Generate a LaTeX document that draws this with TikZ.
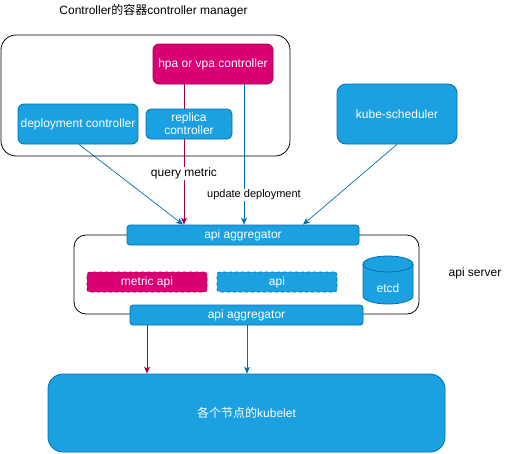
\documentclass[tikz,border=0pt]{standalone}
\usepackage{fontspec}
\setmainfont{Liberation Sans}
\newfontfamily\cjk{Noto Sans CJK SC}
\usetikzlibrary{arrows.meta,backgrounds,calc}
\definecolor{blueF}{HTML}{1BA1E2}
\definecolor{blueD}{HTML}{006EAF}
\definecolor{magF}{HTML}{D80073}
\definecolor{magD}{HTML}{A50040}
\begin{document}
\begin{tikzpicture}[x=1pt,y=-1pt,
  txt/.style={font=\fontsize{12}{14}\selectfont},
  bluebox/.style={draw=blueD, fill=blueF, text=white, line width=0.8pt, txt, inner sep=0pt, align=center},
  magbox/.style={draw=magD, fill=magF, text=white, line width=0.8pt, txt, inner sep=0pt, align=center},
  frame/.style={draw=black, line width=0.8pt, inner sep=0pt},
  bluearrow/.style={draw=blueD, line width=0.7pt, -{Stealth[length=7pt,width=6pt,inset=2pt]}},
  magarrow/.style={draw=magD, line width=0.7pt, -{Stealth[length=7pt,width=6pt,inset=2pt]}},
  edgelabel/.style={fill=white, inner sep=1pt, text=black}
]
\useasboundingbox (0,0) rectangle (505,453);

% title
\node[txt] (title) at (153.5,11) {Controller{\cjk 的容器}controller manager};

% controller manager frame
\node[frame, rounded corners=15pt, minimum width=289pt, minimum height=121pt] (cm) at (145.5,95.5) {};
\node[magbox, rounded corners=6pt, minimum width=120pt, minimum height=40pt] (hpa) at (213,64) {hpa or vpa controller};
\node[bluebox, rounded corners=6pt, minimum width=120pt, minimum height=40pt] (dep) at (78,124) {deployment controller};
\node[bluebox, rounded corners=5pt, minimum width=86pt, minimum height=30pt, font=\fontsize{12}{13}\selectfont] (rep) at (189,124) {replica\\controller};

% scheduler
\node[bluebox, rounded corners=9pt, minimum width=120pt, minimum height=60pt] (sched) at (397,114) {kube-scheduler};

% api server
\node[frame, rounded corners=12pt, minimum width=345pt, minimum height=79pt] (apisrv) at (246.5,274.5) {};
\node[bluebox, rounded corners=3pt, minimum width=232pt, minimum height=20pt] (agg1) at (243,235) {api aggregator};
\node[magbox, dashed, rounded corners=3pt, minimum width=120pt, minimum height=20pt] (metric) at (147,282) {metric api};
\node[bluebox, dashed, rounded corners=3pt, minimum width=120pt, minimum height=20pt] (api) at (277,282) {api};
\node[bluebox, rounded corners=3pt, minimum width=233pt, minimum height=20pt] (agg2) at (246.5,315) {api aggregator};
\node[txt] (srvlabel) at (475,273) {api server};

% etcd cylinder
\fill[blueF] (363,264) -- (363,296) arc (180:360:25pt and 8pt) -- (413,264) arc (0:180:25pt and 8pt) -- cycle;
\draw[blueD, line width=0.8pt] (363,264) -- (363,296) arc (180:360:25pt and 8pt) -- (413,264) arc (0:180:25pt and 8pt) -- cycle;
\draw[blueD, line width=0.8pt] (363,264) arc (180:360:25pt and 8pt);
\node[txt, text=white] (etcd) at (388,288) {etcd};

% kubelet
\node[bluebox, rounded corners=15pt, minimum width=397pt, minimum height=78pt] (kubelet) at (246.5,413) {{\cjk 各个节点的}kubelet};

% connectors
\begin{pgfonlayer}{background}
\draw[bluearrow] ([xshift=1pt]dep.south) -- ([xshift=-60pt]agg1.north);
\draw[magarrow] ([xshift=-29pt]hpa.south) -- ([xshift=-29pt]hpa.south |- agg1.north)
  node[edgelabel, txt, pos=0.638] (qm) {query metric};
\draw[bluearrow] ([xshift=31pt]hpa.south) -- ([xshift=31pt]hpa.south |- agg1.north)
  node[edgelabel, font=\fontsize{11}{13}\selectfont, pos=0.787, xshift=10pt] (ud) {update deployment};
\draw[bluearrow] (sched.south) -- ([xshift=60pt]agg1.north);
\draw[magarrow] ([xshift=-99.5pt]agg2.south) -- ([xshift=-99.5pt]agg2.south |- kubelet.north);
\draw[bluearrow] ([xshift=0.5pt]agg2.south) -- ([xshift=0.5pt]agg2.south |- kubelet.north);
\end{pgfonlayer}
\end{tikzpicture}
\end{document}
